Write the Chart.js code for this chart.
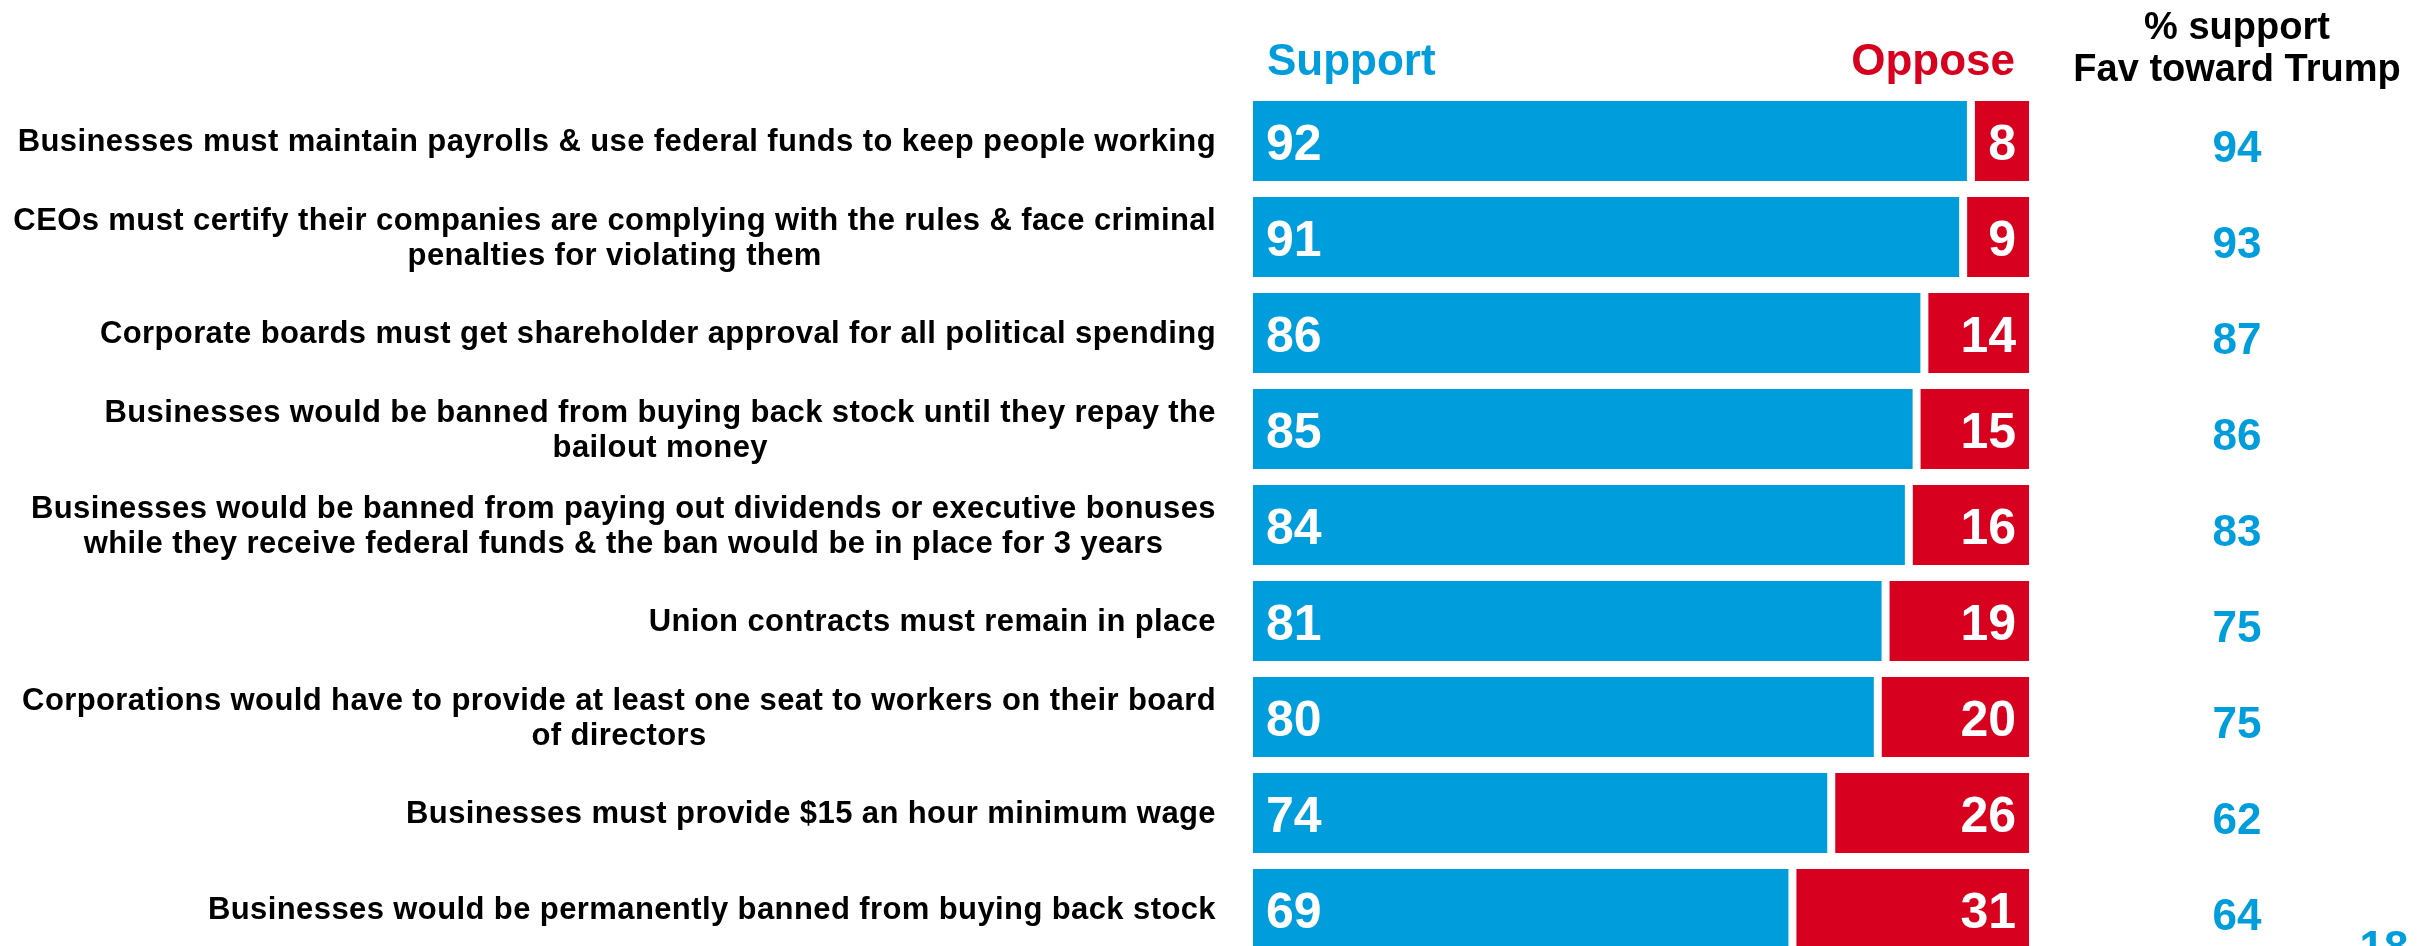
<!DOCTYPE html>
<html>
<head>
<meta charset="utf-8">
<script src="https://cdn.jsdelivr.net/npm/chart.js@4.4.0/dist/chart.umd.min.js"></script>
<style>
  html, body { margin: 0; padding: 0; background: #fff; overflow: hidden; }
  #wrap { width: 2425px; height: 946px; overflow: hidden; }
</style>
</head>
<body>
<div id="wrap"><canvas id="chart" width="2425" height="980"></canvas></div>
<script>
const categories = [
  ["Businesses must maintain payrolls & use federal funds to keep people working"],
  ["CEOs must certify their companies are complying with the rules & face criminal", "penalties for violating them"],
  ["Corporate boards must get shareholder approval for all political spending"],
  ["Businesses would be banned from buying back stock until they repay the", "bailout money"],
  ["Businesses would be banned from paying out dividends or executive bonuses", "while they receive federal funds & the ban would be in place for 3 years"],
  ["Union contracts must remain in place"],
  ["Corporations would have to provide at least one seat to workers on their board", "of directors"],
  ["Businesses must provide $15 an hour minimum wage"],
  ["Businesses would be permanently banned from buying back stock"]
];
const supportValues = [92, 91, 86, 85, 84, 81, 80, 74, 69];
const opposeValues = [8, 9, 14, 15, 16, 19, 20, 26, 31];
const favTrumpValues = [94, 93, 87, 86, 83, 75, 75, 62, 64];
const pageNumber = "18";

const BLUE = "#009DDC";
const RED = "#D7001F";
const FONT = "'Liberation Sans', Arial, Helvetica, sans-serif";

const overlayText = {
  id: "overlayText",
  afterDatasetsDraw(chart) {
    const ctx = chart.ctx;
    const yScale = chart.scales.y;
    const supMeta = chart.getDatasetMeta(0);
    const oppMeta = chart.getDatasetMeta(1);
    ctx.save();

    // row labels: block right-aligned, lines centered inside the block
    ctx.font = "bold 31px " + FONT;
    ctx.letterSpacing = "0.4px";
    ctx.fillStyle = "#000";
    ctx.textAlign = "center";
    ctx.textBaseline = "alphabetic";
    const labelRight = 1216;
    const lineH = 35;
    categories.forEach((lines, i) => {
      const cy = yScale.getPixelForValue(i);
      const w = Math.max(...lines.map(l => ctx.measureText(l).width));
      const cx = labelRight - w / 2;
      const y0 = cy - (lines.length - 1) * lineH / 2 + 10;
      lines.forEach((l, k) => ctx.fillText(l, cx, y0 + k * lineH));
    });
    ctx.letterSpacing = "0px";

    // values inside bars
    ctx.font = "bold 50px " + FONT;
    ctx.fillStyle = "#fff";
    supMeta.data.forEach((bar, i) => {
      ctx.textAlign = "left";
      ctx.fillText(String(supportValues[i]), Math.min(bar.x, bar.base) + 13, bar.y + 19);
    });
    oppMeta.data.forEach((bar, i) => {
      ctx.textAlign = "right";
      ctx.fillText(String(opposeValues[i]), Math.max(bar.x, bar.base) - 13, bar.y + 19);
    });

    // fav toward Trump column
    ctx.font = "bold 44px " + FONT;
    ctx.fillStyle = BLUE;
    ctx.textAlign = "center";
    favTrumpValues.forEach((v, i) => {
      ctx.fillText(String(v), 2237, yScale.getPixelForValue(i) + 21);
    });

    // headers
    ctx.font = "bold 44px " + FONT;
    ctx.fillStyle = BLUE;
    ctx.textAlign = "left";
    ctx.fillText("Support", 1267, 75);
    ctx.fillStyle = RED;
    ctx.textAlign = "right";
    ctx.fillText("Oppose", 2015, 75);

    ctx.font = "bold 38px " + FONT;
    ctx.fillStyle = "#000";
    ctx.textAlign = "center";
    ctx.fillText("% support", 2237, 39);
    ctx.fillText("Fav toward Trump", 2237, 81);

    // page number (cut off at the bottom edge)
    ctx.font = "bold 44px " + FONT;
    ctx.fillStyle = BLUE;
    ctx.fillText(pageNumber, 2384, 962);

    ctx.restore();
  }
};

new Chart(document.getElementById("chart"), {
  type: "bar",
  data: {
    labels: categories,
    datasets: [{
      label: "Support",
      data: supportValues,
      backgroundColor: BLUE,
      borderWidth: 0,
      barPercentage: 1,
      categoryPercentage: 80 / 96
    }, {
      label: "Oppose",
      data: opposeValues,
      backgroundColor: RED,
      borderColor: "#fff",
      borderWidth: { left: 8, right: 0, top: 0, bottom: 0 },
      borderSkipped: false,
      barPercentage: 1,
      categoryPercentage: 80 / 96
    }]
  },
  options: {
    indexAxis: "y",
    responsive: false,
    animation: false,
    layout: {
      padding: { left: 1253, right: 396, top: 93, bottom: 23 }
    },
    scales: {
      x: { stacked: true, min: 0, max: 100, display: false },
      y: { stacked: true, display: false }
    },
    plugins: {
      legend: { display: false },
      tooltip: { enabled: false }
    }
  },
  plugins: [overlayText]
});
</script>
</body>
</html>
